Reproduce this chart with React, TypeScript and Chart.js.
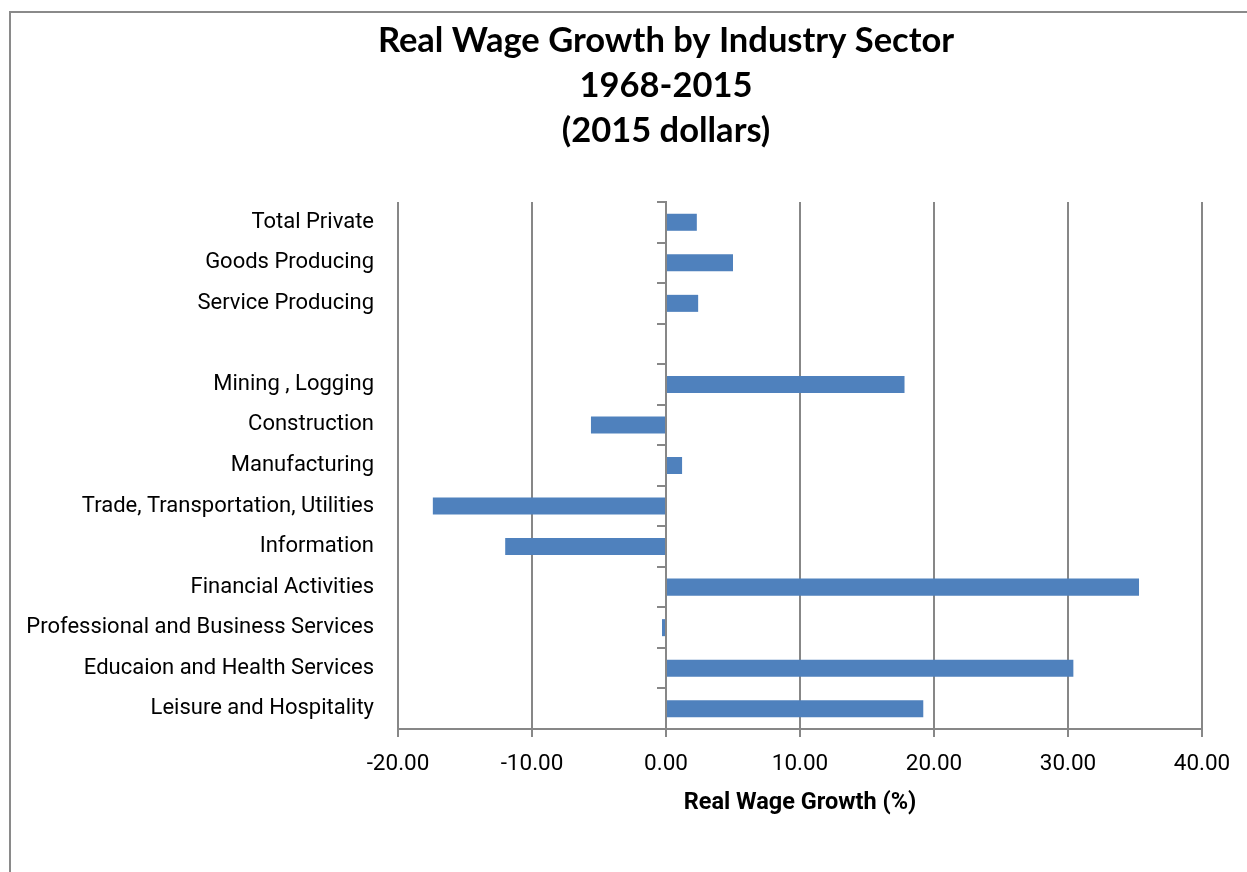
import React, { useEffect, useRef } from 'react';
import { Chart, registerables } from 'chart.js';

Chart.register(...registerables);

// ---- Data ----
const categories: string[] = [
  'Total Private',
  'Goods Producing',
  'Service Producing',
  '',
  'Mining , Logging',
  'Construction',
  'Manufacturing',
  'Trade, Transportation, Utilities',
  'Information',
  'Financial Activities',
  'Professional and Business Services',
  'Educaion and Health Services',
  'Leisure and Hospitality',
];

const growthValues: (number | null)[] = [
  2.3, 5.0, 2.4, null, 17.8, -5.6, 1.2, -17.4, -12.0, 35.3, -0.3, 30.4, 19.2,
];

const titleLines: string[] = ['Real Wage Growth by Industry Sector', '1968-2015', '(2015 dollars)'];
const xAxisTitle = 'Real Wage Growth (%)';
const xMin = -20;
const xMax = 40;
const xStep = 10;

// ---- Styles ----
const W = 1247;
const H = 872;
const NARROW = "'Liberation Sans Narrow', 'Arial Narrow', Roboto, sans-serif";
const TITLE_FONT = "Lato, Carlito, Calibri, 'Open Sans', sans-serif";
const GRID = '#878787';
const BAR = '#4F81BD';

const framePlugin = {
  id: 'frameAndTitle',
  beforeDraw(chart: any) {
    const ctx = chart.ctx;
    ctx.save();
    ctx.fillStyle = '#ffffff';
    ctx.fillRect(0, 0, chart.width, chart.height);
    ctx.strokeStyle = '#8a8a8a';
    ctx.lineWidth = 2;
    ctx.beginPath();
    ctx.moveTo(10, chart.height + 2);
    ctx.lineTo(10, 12);
    ctx.lineTo(chart.width + 2, 12);
    ctx.stroke();
    ctx.restore();
  },
  afterDraw(chart: any) {
    const ctx = chart.ctx;
    ctx.save();
    ctx.fillStyle = '#000000';
    ctx.font = `bold 34.5px ${TITLE_FONT}`;
    ctx.textAlign = 'center';
    ctx.textBaseline = 'middle';
    const cx = 666;
    const ys = [41, 86, 131];
    titleLines.forEach((t, i) => ctx.fillText(t, cx, ys[i]));
    ctx.restore();
  },
};

export default function App() {
  const ref = useRef<HTMLCanvasElement | null>(null);

  useEffect(() => {
    if (!ref.current) return;
    const chart = new Chart(ref.current, {
      type: 'bar',
      data: {
        labels: categories,
        datasets: [
          {
            data: growthValues,
            backgroundColor: BAR,
            borderWidth: 0,
            categoryPercentage: 1,
            barPercentage: 0.42,
            xAxisID: 'x',
            yAxisID: 'y',
          },
        ],
      },
      options: {
        indexAxis: 'y',
        responsive: false,
        animation: false,
        layout: { padding: { left: 10, right: 45, top: 202, bottom: 0 } },
        plugins: {
          legend: { display: false },
          title: { display: false },
          tooltip: { enabled: false },
        },
        scales: {
          x: {
            type: 'linear',
            position: 'bottom',
            min: xMin,
            max: xMax,
            ticks: {
              stepSize: xStep,
              color: '#000000',
              font: { family: NARROW, size: 22.5 },
              padding: 14,
              callback: (v: any) => Number(v).toFixed(2),
            },
            grid: { color: GRID, lineWidth: 2, tickLength: 8, drawTicks: true },
            border: { display: true, color: GRID, width: 2 },
            title: {
              display: true,
              text: xAxisTitle,
              color: '#000000',
              font: { family: NARROW, size: 23.5, weight: 'bold' },
              padding: { top: 0, bottom: 55 },
            },
            afterFit: (s: any) => {
              s.height = 143;
            },
          },
          y: {
            type: 'category',
            position: 'left',
            grid: { display: false },
            border: { display: false },
            ticks: {
              color: '#000000',
              font: { family: NARROW, size: 22 },
              padding: 16,
              autoSkip: false,
            },
            afterFit: (s: any) => {
              s.width = 388;
            },
          },
          y2: {
            type: 'category',
            axis: 'y',
            position: { x: 0 },
            offset: true,
            grid: {
              offset: true,
              drawOnChartArea: false,
              drawTicks: true,
              tickLength: 8,
              color: GRID,
              lineWidth: 2,
            },
            border: { display: true, color: GRID, width: 2 },
            ticks: { display: false, autoSkip: false },
          },
        } as any,
      },
      plugins: [framePlugin],
    } as any);
    return () => chart.destroy();
  }, []);

  return (
    <canvas
      ref={ref}
      width={W}
      height={H}
      style={{ position: 'fixed', left: 0, top: 0, width: W, height: H, display: 'block' }}
    />
  );
}
